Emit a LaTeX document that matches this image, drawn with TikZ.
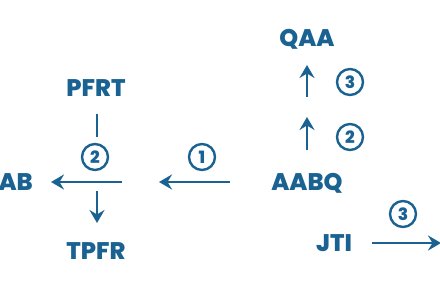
\documentclass[tikz,border=0pt]{standalone}
\usepackage{fontspec}
\setmainfont{Poppins}[UprightFont={* ExtraBold},BoldFont={* ExtraBold}]
\usetikzlibrary{arrows.meta}
\definecolor{steel}{RGB}{26,98,146}
\begin{document}
\begin{tikzpicture}[x=1pt,y=-1pt,
  lbl/.style={text=steel,font=\fontsize{24}{24}\selectfont,inner sep=0pt,anchor=center},
  num/.style={circle,draw=steel,line width=2.4pt,text=steel,font=\fontsize{17}{17}\selectfont,minimum size=26pt,inner sep=0pt},
  conn/.style={draw=steel,line width=2.6pt,-{Stealth[length=13pt,width=15pt,inset=4.5pt]}},
  bar/.style={draw=steel,line width=2.6pt}]
\useasboundingbox (0,0) rectangle (440,300);
\node[lbl] (qaa) at (307,39) {QAA};
\node[lbl] (pfrt) at (96,88) {PFRT};
\node[lbl,anchor=east] (aab) at (33,182) {AAB};
\node[lbl] (tpfr) at (96,251) {TPFR};
\node[lbl] (aabq) at (307,183) {AABQ};
\node[lbl] (jti) at (334,243) {JTI};
\node[num] (n3a) at (350,82) {3};
\node[num] (n2a) at (350,137) {2};
\node[num] (n2b) at (95,157) {2};
\node[num] (n1) at (202,157) {1};
\node[num] (n3b) at (403,214) {3};
\coordinate (u1s) at (307,150);
\coordinate (u1e) at (307,117);
\coordinate (u2s) at (307,97);
\coordinate (u2e) at (307,65);
\coordinate (bs) at (97,114);
\coordinate (be) at (97,137);
\coordinate (ls) at (122,182);
\coordinate (le) at (51,182);
\coordinate (ds) at (97,191);
\coordinate (de) at (97,223);
\coordinate (ms) at (230,182);
\coordinate (me) at (159,182);
\coordinate (js) at (372,243);
\coordinate (je) at (441,243);
\draw[conn] (u1s) -- (u1e);
\draw[conn] (u2s) -- (u2e);
\draw[bar] (bs) -- (be);
\draw[conn] (ls) -- (le);
\draw[conn] (ds) -- (de);
\draw[conn] (ms) -- (me);
\draw[conn] (js) -- (je);
\end{tikzpicture}
\end{document}
